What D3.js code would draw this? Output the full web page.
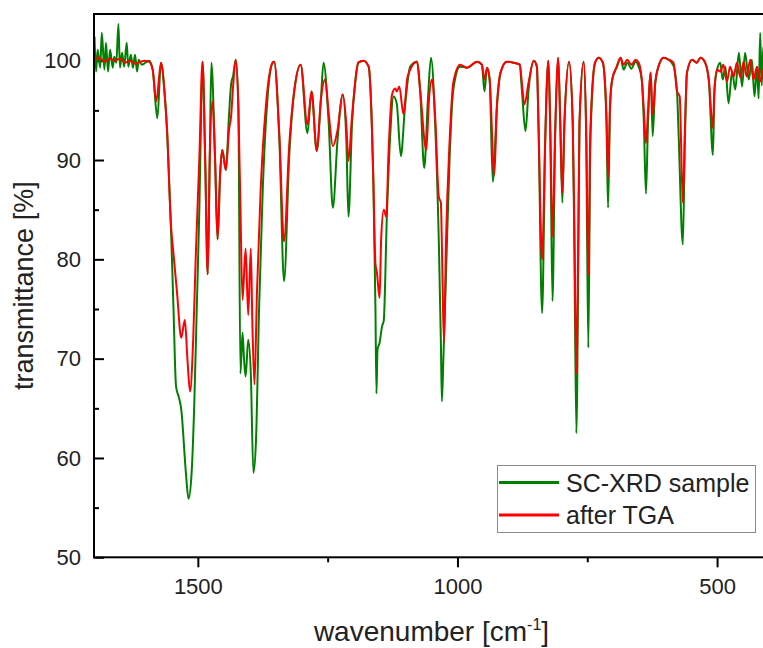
<!DOCTYPE html>
<html>
<head>
<meta charset="utf-8">
<script src="https://cdn.jsdelivr.net/npm/d3@7"></script>
<style>
  body { margin: 0; background: #fff; }
  svg { display: block; font-family: "Liberation Sans", Arial, sans-serif; }
  .axis path.domain { display: none; }
  .axis line { stroke: #000; stroke-width: 2; }
  .axis text { font-size: 22px; fill: #222; }
</style>
</head>
<body>
<svg></svg>
<script>
const WIDTH = 763
const HEIGHT = 648

// [wavenumber cm-1, transmittance %]
const scxrd = [
  [1699,102.4],[1696,98.9],[1693,101.1],[1688,99.3],[1685,102.8],[1680,99.1],[1677,101.8],[1673,98.9],[1669,101.1],[1664,99.3],
  [1661,100.4],[1657,99.8],[1653,103.7],[1650,99.3],[1646,100.8],[1642,99.4],[1637,101.8],[1634,99.4],[1629,100.6],[1625,99.3],
  [1621,100.6],[1617,98.9],[1614,100.1],[1608,99.6],[1598,99.9],[1594,100.0],[1587,99.1],[1578,94.2],[1571,99.8],[1564,96.7],
  [1559,92.7],[1552,83.6],[1547,75.2],[1542,67.2],[1536,66.0],[1532,64.9],[1523,58.5],[1518,55.9],[1512,58.5],[1507,65.2],
  [1502,75.2],[1497,85.3],[1494,93.7],[1491,99.9],[1486,90.4],[1481,78.5],[1477,90.4],[1474,99.8],[1467,90.4],[1462,82.0],
  [1457,88.7],[1453,91.0],[1446,89.0],[1440,94.5],[1436,97.6],[1432,98.5],[1427,100.1],[1422,95.4],[1418,68.5],[1414,72.6],
  [1411,69.9],[1408,68.2],[1403,71.9],[1398,68.5],[1393,58.5],[1388,61.8],[1382,75.2],[1375,87.0],[1366,96.1],[1356,99.8],
  [1353,99.9],[1343,92.0],[1334,77.8],[1324,90.4],[1314,97.1],[1302,99.6],[1289,92.7],[1281,96.9],[1271,90.9],[1263,96.1],
  [1258,99.8],[1248,93.7],[1240,85.2],[1231,92.0],[1221,96.6],[1214,92.0],[1210,84.3],[1203,93.7],[1197,97.8],[1191,99.8],
  [1181,100.0],[1171,99.4],[1165,93.7],[1162,88.0],[1158,75.2],[1156,66.5],[1154,70.9],[1150,71.6],[1145,73.3],[1142,73.8],
  [1136,84.3],[1130,92.0],[1123,96.4],[1117,95.7],[1109,90.4],[1101,95.4],[1091,99.4],[1078,99.9],[1072,97.1],[1064,89.2],
  [1057,96.0],[1051,100.3],[1043,93.7],[1036,82.0],[1032,71.9],[1030,65.7],[1027,70.2],[1022,78.6],[1015,90.4],[1008,97.1],
  [995,99.4],[982,99.3],[962,99.9],[953,99.6],[948,96.9],[943,99.3],[938,98.1],[932,87.8],[924,95.4],[917,98.8],
  [905,99.9],[892,99.8],[880,99.6],[876,97.1],[869,92.9],[863,97.1],[853,100.0],[847,99.4],[844,93.7],[837,74.6],
  [831,92.0],[825,100.0],[821,92.0],[817,75.8],[812,92.0],[806,100.3],[802,93.7],[798,85.7],[794,93.7],[785,99.9],
  [778,93.7],[775,82.0],[771,62.5],[767,82.0],[765,93.7],[757,99.9],[752,92.0],[748,71.1],[744,92.0],[735,99.8],
  [728,100.3],[720,99.8],[713,93.7],[710,85.2],[706,95.4],[702,98.1],[693,99.4],[686,100.3],[680,99.1],[673,99.8],
  [665,99.2],[657,99.9],[651,99.4],[645,98.1],[641,93.7],[637,86.6],[633,93.7],[628,98.8],[624,92.4],[619,97.8],
  [613,99.4],[603,100.3],[593,100.1],[584,99.5],[577,96.7],[574,92.5],[566,81.5],[562,92.0],[558,98.8],[548,100.1],
  [539,99.8],[532,100.3],[523,99.8],[516,98.1],[508,90.5],[505,97.1],[500,99.1],[494,99.8],[489,98.1],[484,99.4],
  [478,95.7],[471,98.9],[465,97.1],[458,100.8],[452,97.4],[446,100.8],[439,98.1],[433,100.1],[428,96.4],[423,99.4],
  [420,96.2],[417,102.8],[414,97.5],[411,101.4],[405,99.0]
]
const afterTga = [
  [1699,100.1],[1690,100.3],[1680,99.9],[1670,100.2],[1660,100.0],[1650,100.2],[1640,99.8],[1630,100.0],[1620,99.7],[1610,99.9],
  [1603,100.0],[1594,99.9],[1587,99.1],[1580,95.9],[1571,99.8],[1564,96.7],[1559,92.7],[1552,83.6],[1547,80.6],[1540,76.6],
  [1532,72.1],[1525,73.9],[1520,69.9],[1515,66.7],[1509,71.9],[1504,80.3],[1497,90.4],[1491,99.9],[1486,90.4],[1481,78.5],
  [1477,90.4],[1472,95.9],[1467,90.4],[1462,82.0],[1457,88.7],[1453,91.0],[1446,89.0],[1440,93.0],[1436,94.4],[1432,97.5],
  [1427,100.1],[1422,95.4],[1418,85.3],[1414,75.9],[1408,81.1],[1403,74.4],[1398,81.1],[1395,73.6],[1391,67.4],[1386,76.9],
  [1379,87.0],[1369,95.4],[1356,99.8],[1353,99.9],[1343,92.5],[1334,81.8],[1324,91.5],[1314,97.1],[1302,99.6],[1289,93.6],
  [1281,96.9],[1271,90.9],[1263,96.1],[1255,98.1],[1248,94.7],[1240,91.4],[1231,93.0],[1221,96.6],[1214,93.5],[1210,89.9],
  [1203,94.5],[1197,97.8],[1191,99.8],[1181,100.0],[1171,99.4],[1165,93.7],[1162,88.0],[1158,79.6],[1155,78.6],[1150,76.1],
  [1147,82.0],[1142,85.0],[1137,84.3],[1133,90.4],[1126,96.6],[1120,97.2],[1117,96.9],[1112,97.4],[1104,94.6],[1096,98.4],
  [1078,99.9],[1072,97.1],[1060,91.0],[1055,96.0],[1049,98.1],[1043,94.4],[1036,86.3],[1032,85.7],[1029,78.6],[1026,71.6],
  [1022,82.0],[1015,92.0],[1008,97.8],[995,99.6],[982,99.3],[962,99.9],[953,99.6],[948,98.1],[943,99.3],[938,98.1],
  [929,88.5],[924,95.4],[917,98.8],[905,99.9],[892,99.8],[880,99.6],[876,97.8],[871,95.6],[863,97.8],[853,100.0],
  [847,99.4],[844,93.7],[837,80.0],[831,92.0],[825,100.0],[821,92.5],[817,82.3],[812,92.5],[806,100.3],[802,93.7],
  [798,86.7],[794,93.7],[785,99.9],[778,93.7],[775,84.0],[771,68.5],[767,84.0],[765,93.7],[757,99.9],[752,93.0],
  [748,78.4],[744,93.0],[735,99.8],[728,100.3],[720,99.8],[713,94.5],[710,88.2],[706,95.8],[702,98.1],[693,99.4],
  [686,100.3],[680,99.6],[673,100.1],[665,99.6],[657,100.1],[651,99.8],[645,98.1],[641,95.0],[637,91.7],[633,95.0],
  [628,98.8],[624,94.6],[619,97.8],[613,99.4],[603,100.3],[593,100.1],[584,99.8],[577,96.9],[572,96.4],[566,85.7],
  [562,93.0],[558,98.8],[548,100.1],[539,99.8],[532,100.3],[523,99.8],[516,98.1],[508,93.2],[505,97.1],[500,99.1],
  [494,98.9],[488,99.6],[481,97.9],[475,99.4],[468,98.4],[462,99.8],[455,98.3],[449,99.9],[443,98.4],[436,100.1],
  [430,98.1],[423,99.4],[417,97.9],[411,99.1],[405,98.6]
]

const seriesNames = ['SC-XRD sample','after TGA']
const seriesColors = ['#008000','#ff0000']
const xTicks = [1500,1000,500]
const xMinor = [1250,750]
const yTicks = [50,60,70,80,90,100]
const yMinor = [55,65,75,85,95]

const plot = { left:94, top:14, right:769, bottom:557.3 }

const svg = d3.select('svg')
  .attr('width',WIDTH)
  .attr('height',HEIGHT)

const x = d3.scaleLinear().domain([1700,400]).range([plot.left,plot.right])
const y = d3.scaleLinear().domain([50,104.7]).range([plot.bottom,plot.top])

svg.append('clipPath').attr('id','clip')
  .append('rect')
  .attr('x',plot.left).attr('y',plot.top)
  .attr('width',plot.right-plot.left).attr('height',plot.bottom-plot.top)

// axes
svg.append('g').attr('class','axis')
  .attr('transform',`translate(0,${plot.bottom})`)
  .call(d3.axisBottom(x).tickValues(xTicks).tickSize(10).tickPadding(11).tickFormat(d3.format('d')))
svg.append('g').attr('class','axis')
  .attr('transform',`translate(0,${plot.bottom})`)
  .call(d3.axisBottom(x).tickValues(xMinor).tickSize(5).tickFormat(''))
svg.append('g').attr('class','axis')
  .attr('transform',`translate(${plot.left},0)`)
  .call(d3.axisLeft(y).tickValues(yTicks).tickSize(-10).tickPadding(13))
svg.append('g').attr('class','axis')
  .attr('transform',`translate(${plot.left},0)`)
  .call(d3.axisLeft(y).tickValues(yMinor).tickSize(-5).tickFormat(''))

const line = d3.line()
  .x(d => x(d[0]))
  .y(d => y(d[1]))
  .curve(d3.curveMonotoneX)

const lines = svg.append('g').attr('clip-path','url(#clip)')
;[scxrd,afterTga].forEach((s,i) => {
  lines.append('path')
    .attr('d',line(s))
    .attr('fill','none')
    .attr('stroke',seriesColors[i])
    .attr('stroke-width',2)
    .attr('stroke-linejoin','round')
})

// frame
svg.append('rect')
  .attr('x',plot.left).attr('y',plot.top)
  .attr('width',plot.right-plot.left).attr('height',plot.bottom-plot.top)
  .attr('fill','none')
  .attr('stroke','#000')
  .attr('stroke-width',2)

// axis titles
const xt = svg.append('text')
  .attr('x',(plot.left+plot.right)/2)
  .attr('y',641)
  .attr('text-anchor','middle')
  .style('font-size','28px')
  .attr('fill','#222')
xt.append('tspan').text('wavenumber [cm')
xt.append('tspan').text('-1').style('font-size','16px').attr('dy',-11)
xt.append('tspan').text(']').attr('dy',11)

svg.append('text')
  .attr('transform',`translate(33,${(plot.top+plot.bottom)/2}) rotate(-90)`)
  .attr('text-anchor','middle')
  .style('font-size','27px')
  .attr('fill','#222')
  .text('transmittance [%]')

// legend
const legend = svg.append('g')
legend.append('rect')
  .attr('x',497.5).attr('y',465.5)
  .attr('width',258).attr('height',67)
  .attr('fill','#fff')
  .attr('stroke','#8a8a8a')
  .attr('stroke-width',1)
seriesNames.forEach((name,i) => {
  const ly = 482.5 + i*32.5
  legend.append('line')
    .attr('x1',499).attr('x2',559)
    .attr('y1',ly).attr('y2',ly)
    .attr('stroke',seriesColors[i])
    .attr('stroke-width',3)
  legend.append('text')
    .attr('x',566).attr('y',ly+9)
    .style('font-size','25px')
    .attr('fill','#222')
    .text(name)
})
</script>
</body>
</html>
